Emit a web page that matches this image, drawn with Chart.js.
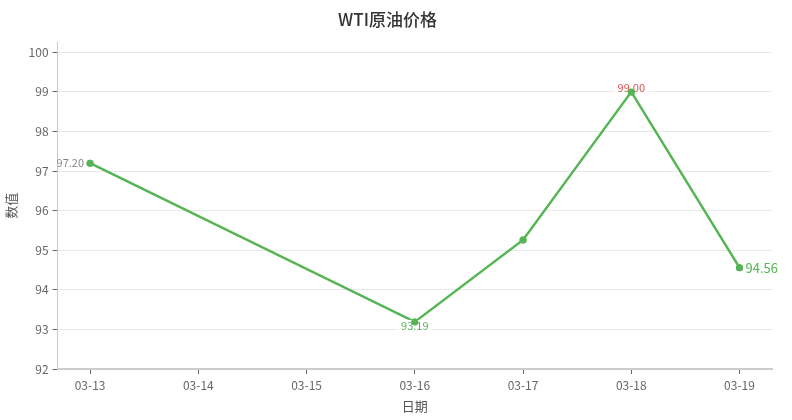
<!DOCTYPE html>
<html>
<head>
  <meta charset="UTF-8">
  <title>WTI原油价格</title>
  <script src="https://cdn.jsdelivr.net/npm/chart.js"></script>
  <style>
    html, body {
      margin: 0;
      padding: 0;
      background: #ffffff;
    }
    .chart-box {
      width: 792px;
      height: 420px;
    }
  </style>
</head>
<body>

<div class="chart-box">
  <canvas id="wtiChart"></canvas>
</div>

<script>
  // data (null = no quote that day)
  const dates = ['03-13', '03-14', '03-15', '03-16', '03-17', '03-18', '03-19'];
  const prices = [97.20, null, null, 93.19, 95.26, 99.00, 94.56];
  const yTicks = [92, 93, 94, 95, 96, 97, 98, 99, 100];

  const FONT = '"Noto Sans CJK SC", "Noto Sans", sans-serif';
  const GREEN = '#55b555';
  const RED = '#d9534f';

  const points = prices
    .map((v, i) => ({ x: i, y: v }))
    .filter(p => p.y !== null);

  const valid = points.map(p => p.y);
  const maxVal = Math.max(...valid);
  const minVal = Math.min(...valid);

  // draws value labels for first / min / max / last point
  const valueLabels = {
    id: 'valueLabels',
    afterDatasetsDraw(chart) {
      const ctx = chart.ctx;
      const meta = chart.getDatasetMeta(0);
      ctx.save();
      meta.data.forEach((el, i) => {
        const v = points[i].y;
        const isFirst = i === 0;
        const isLast = i === points.length - 1;
        let color, align, baseline, dx = 0, dy = 0, size = 11;
        if (isLast) {
          color = GREEN; align = 'left'; baseline = 'middle'; dx = 6; size = 13;
        } else if (v === maxVal) {
          color = RED; align = 'center'; baseline = 'bottom'; dy = 1;
        } else if (v === minVal) {
          color = GREEN; align = 'center'; baseline = 'top'; dy = -2;
        } else if (isFirst) {
          color = '#888888'; align = 'right'; baseline = 'middle'; dx = -6;
        } else {
          return;
        }
        const text = v.toFixed(2);
        ctx.font = size + 'px ' + FONT;
        ctx.textAlign = align;
        ctx.textBaseline = baseline;
        const w = ctx.measureText(text).width;
        const h = size + 2;
        const tx = el.x + dx;
        const ty = el.y + dy;
        let bx = align === 'left' ? tx : align === 'right' ? tx - w : tx - w / 2;
        let by = baseline === 'top' ? ty : baseline === 'bottom' ? ty - h : ty - h / 2;
        if (!isFirst && !isLast) {
          ctx.fillStyle = 'rgba(255,255,255,0.9)';
          ctx.fillRect(bx - 4, by, w + 8, h);
        }
        ctx.fillStyle = color;
        ctx.fillText(text, tx, ty);
      });
      // keep the points on top of the label boxes
      meta.data.forEach(el => {
        ctx.beginPath();
        ctx.fillStyle = GREEN;
        ctx.arc(el.x, el.y, 3.5, 0, Math.PI * 2);
        ctx.fill();
      });
      ctx.restore();
    }
  };

  document.addEventListener("DOMContentLoaded", function () {
    const ctx = document.getElementById('wtiChart').getContext('2d');

    new Chart(ctx, {
      type: 'line',
      data: {
        datasets: [{
          label: 'WTI原油价格',
          data: points,
          borderColor: GREEN,
          backgroundColor: GREEN,
          borderWidth: 2.5,
          pointRadius: 3.5,
          pointBackgroundColor: GREEN,
          pointBorderWidth: 0,
          tension: 0,
          fill: false
        }]
      },
      options: {
        responsive: true,
        maintainAspectRatio: false,
        animation: false,
        layout: {
          padding: { left: 3, right: 20, top: 1, bottom: 6 }
        },
        plugins: {
          legend: { display: false },
          tooltip: { enabled: false },
          title: {
            display: true,
            text: 'WTI原油价格',
            color: '#333333',
            font: { family: FONT, size: 17, weight: '500' },
            padding: { top: 8, bottom: 13 }
          }
        },
        scales: {
          x: {
            type: 'linear',
            min: -0.3,
            max: 6.3,
            afterBuildTicks: axis => {
              axis.ticks = dates.map((d, i) => ({ value: i }));
            },
            ticks: {
              color: '#666666',
              font: { family: FONT, size: 12 },
              padding: 4,
              callback: value => dates[value]
            },
            grid: {
              drawOnChartArea: false,
              tickColor: '#666666',
              tickLength: 5
            },
            border: { color: '#cccccc', width: 2 },
            title: {
              display: true,
              text: '日期',
              color: '#555555',
              font: { family: FONT, size: 13 },
              padding: { top: 2, bottom: 0 }
            }
          },
          y: {
            min: 92,
            max: 100.25,
            afterBuildTicks: axis => {
              axis.ticks = yTicks.map(v => ({ value: v }));
            },
            ticks: {
              color: '#666666',
              font: { family: FONT, size: 12 },
              padding: 4
            },
            grid: {
              color: '#e8e8e8',
              tickColor: '#666666',
              tickLength: 5
            },
            border: { color: '#cccccc' },
            title: {
              display: true,
              text: '数值',
              color: '#555555',
              font: { family: FONT, size: 13 },
              padding: { top: 0, bottom: 6 }
            }
          }
        }
      },
      plugins: [valueLabels]
    });
  });
</script>

</body>
</html>
